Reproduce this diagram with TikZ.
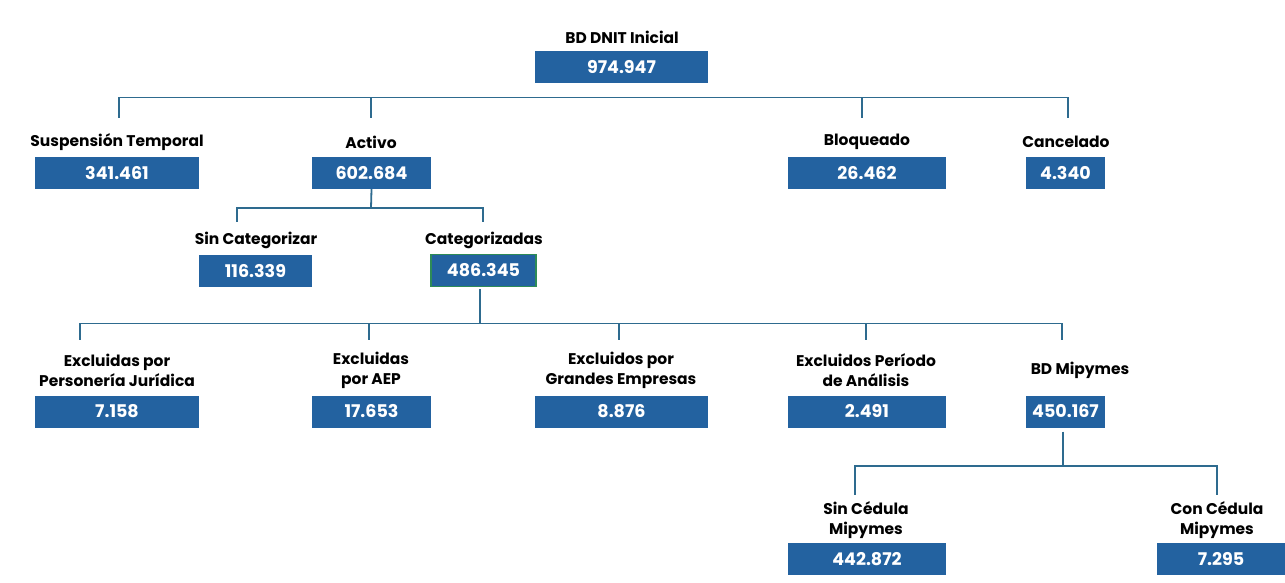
\documentclass[tikz,border=0pt]{standalone}
\usepackage{fontspec}
\setmainfont{Poppins}
\definecolor{boxblue}{HTML}{2362A0}
\definecolor{linecol}{HTML}{2E6B8F}
\definecolor{boxgreen}{HTML}{2E8B57}
\begin{document}
\begin{tikzpicture}[x=1pt,y=-1pt,
  lbl/.style={font=\fontsize{15.5}{20}\selectfont\bfseries, align=center, text=black, inner sep=0pt},
  val/.style={fill=boxblue, text=white, font=\fontsize{17.5}{20}\selectfont\bfseries, minimum height=32pt, inner sep=0pt},
  conn/.style={draw=linecol, line width=1.8pt}]
\useasboundingbox[fill=white] (0,0) rectangle (1285,583);
% level 0
\node[lbl] (lroot) at (622,37) {BD DNIT Inicial};
\node[val, minimum width=173pt] (root) at (621.5,67) {974.947};
% level 1
\node[lbl] (lsus) at (117,142) {Suspensión Temporal};
\node[val, minimum width=164pt] (sus) at (117,173) {341.461};
\node[lbl] (lact) at (371,142) {Activo};
\node[val, minimum width=119pt] (act) at (371.5,173) {602.684};
\node[lbl] (lblo) at (867,142) {Bloqueado};
\node[val, minimum width=158pt] (blo) at (867,173) {26.462};
\node[lbl] (lcan) at (1066,142) {Cancelado};
\node[val, minimum width=79pt] (can) at (1065.5,173) {4.340};
% level 2
\node[lbl] (lsin) at (256,240) {Sin Categorizar};
\node[val, minimum width=113pt] (sin) at (255.5,271) {116.339};
\node[lbl] (lcat) at (484,240) {Categorizadas};
\node[val, minimum width=105pt, draw=boxgreen, line width=1.2pt] (cat) at (483.5,270.5) {486.345};
% level 3
\node[lbl] (lper) at (117,370) {Excluidas por\\Personería Jurídica};
\node[val, minimum width=164pt] (per) at (117,411.5) {7.158};
\node[lbl] (laep) at (371,370) {Excluidas\\por AEP};
\node[val, minimum width=119pt] (aep) at (371.5,411.5) {17.653};
\node[lbl] (lgra) at (621,370) {Excluidos por\\Grandes Empresas};
\node[val, minimum width=173pt] (gra) at (621.5,411.5) {8.876};
\node[lbl] (lpdo) at (866,370) {Excluidos Período\\de Análisis};
\node[val, minimum width=158pt] (pdo) at (867,411.5) {2.491};
\node[lbl] (lbdm) at (1080,370) {BD Mipymes};
\node[val, minimum width=79pt] (bdm) at (1065.5,411.5) {450.167};
% level 4
\node[lbl] (lsce) at (866,520) {Sin Cédula\\Mipymes};
\node[val, minimum width=158pt] (sce) at (867,559) {442.872};
\node[lbl] (lcce) at (1217,520) {Con Cédula\\Mipymes};
\node[val, minimum width=128pt] (cce) at (1221,559) {7.295};
% connector coordinates
\coordinate (b1) at (621.5,97.5);
\coordinate (dsus) at (119,118);
\coordinate (dact) at (371,118);
\coordinate (dblo) at (862,118);
\coordinate (dcan) at (1068,118);
\coordinate (b2) at (371,208);
\coordinate (dsin) at (237,222);
\coordinate (dcat) at (483,222);
\coordinate (b3) at (480,323.5);
\coordinate (dper) at (80,340);
\coordinate (daep) at (369,340);
\coordinate (dgra) at (619,340);
\coordinate (dpdo) at (866,340);
\coordinate (dbdm) at (1062,340);
\coordinate (b4) at (1063,466);
\coordinate (dsce) at (855,495);
\coordinate (dcce) at (1217,495);
% connectors
\foreach \t in {dsus,dact,dblo,dcan} \draw[conn] (b1) -| (\t);
\draw[conn] (act.south) -- (b2);
\foreach \t in {dsin,dcat} \draw[conn] (b2) -| (\t);
\draw[conn] ([yshift=-2pt]cat.south -| b3) -- (b3);
\foreach \t in {dper,daep,dgra,dpdo,dbdm} \draw[conn] (b3) -| (\t);
\draw[conn] ([yshift=-4pt]bdm.south -| b4) -- (b4);
\foreach \t in {dsce,dcce} \draw[conn] (b4) -| (\t);
\end{tikzpicture}
\end{document}
